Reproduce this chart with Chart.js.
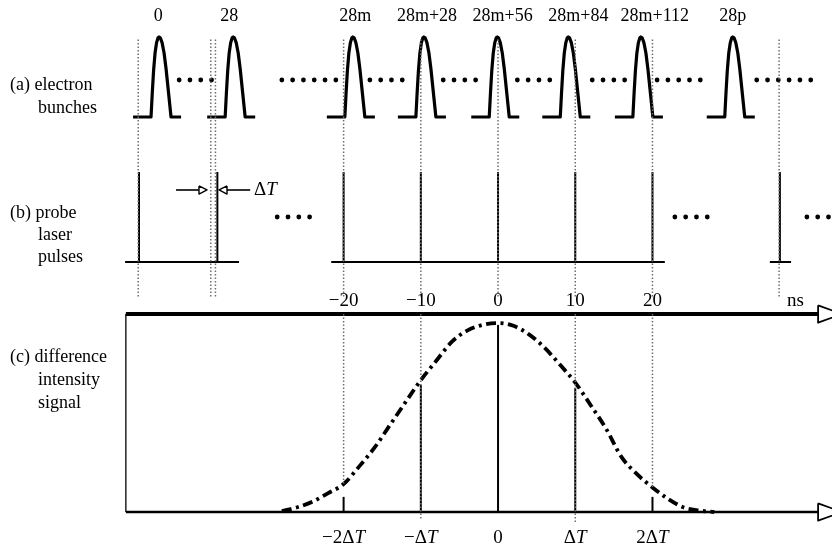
<!DOCTYPE html>
<html>
<head>
<meta charset="utf-8">
<script src="https://cdn.jsdelivr.net/npm/chart.js@4.4.0/dist/chart.umd.min.js"></script>
<style>
  html, body { margin: 0; padding: 0; background: #fff; }
  canvas { display: block; }
</style>
</head>
<body>
<canvas id="chart" width="832" height="548"></canvas>
<script>
// ============================================================
// Timing diagram: electron bunches / probe laser / difference signal
// all times in ns, horizontal axis shared by the three rows
// ============================================================

// ─── DATA ─────────────────────────────────────────────────────
const bunchLabels     = ["0", "28", "28m", "28m+28", "28m+56", "28m+84", "28m+112", "28p"];
const bunchLabelTimes = [-44.0, -34.8, -18.5, -9.2, 0.6, 10.4, 20.3, 30.4];
const bunchPeakTimes  = [-43.9, -34.3, -18.8, -9.6, -0.1, 9.1, 18.5, 30.4];
// one bunch profile: [time offset from peak (ns), relative amplitude]
const bunchShape = [
  [-3.37, 0], [-1.04, 0], [-0.88, 0.3], [-0.71, 0.58], [-0.52, 0.8], [-0.32, 0.93],
  [-0.13, 0.99], [0, 1], [0.16, 0.99], [0.39, 0.93], [0.65, 0.8], [0.91, 0.6],
  [1.23, 0.3], [1.55, 0], [2.85, 0]
];
// "• • • •" runs between bunches: [first dot, last dot] (ns)
const bunchDotRuns = [
  [-41.3, -37.0], [-28.0, -21.0], [-16.6, -12.1], [-7.1, -2.8],
  [2.5, 6.8], [12.2, 16.5], [20.6, 27.5], [33.5, 40.6]
];

const laserTimes     = [-46.5, -36.35, -20, -10, 0, 10, 20, 36.5];
const laserBaselines = [[-48.3, -33.55], [-21.6, 21.6], [35.2, 37.95]];
const laserDotRuns   = [[-28.6, -24.0], [22.9, 27.1], [40.0, 44.4]];

const guideTimes      = [-46.6, -37.2, -36.6, -20, -10, 0, 10, 20, 36.4];
const nsTicks         = [-20, -10, 0, 10, 20];
const nsTickLabels    = ["−20", "−10", "0", "10", "20"];
const dtTickLabels    = [["−2Δ", "T"], ["−Δ", "T"], ["0", ""], ["Δ", "T"], ["2Δ", "T"]];
const guideLowerEnds  = [0.148, -0.042, null, -0.053, 0.132];
const sampleValues    = [0.08, 0.672, 0.99, 0.656, 0.08];

const signalTimes  = [-28, -26, -24, -22, -20, -18, -16, -14, -12, -10, -8, -6, -4, -2, 0,
                      2, 4, 6, 8, 10, 12, 14, 16, 18, 20, 22, 24, 26, 28];
const signalValues = [0.005, 0.025, 0.055, 0.10, 0.148, 0.24, 0.34, 0.46, 0.58, 0.698, 0.80, 0.90, 0.96, 0.99, 1,
                      0.985, 0.94, 0.87, 0.78, 0.685, 0.565, 0.44, 0.29, 0.20, 0.13, 0.07, 0.025, 0.008, 0];

// ─── STYLE / LAYOUT ───────────────────────────────────────────
const serif = "'Liberation Serif', 'Times New Roman', serif";
const AXIS_LEFT = -48.2, AXIS_END = 41.45, ARROW_TIP = 44.55;
const TOP_AXIS = 1.0476;        // signal units
const DT_ROW = 0.8;             // laser units

const pts = (arr) => arr.map(([x, y]) => ({ x, y }));

const seg = (points, axis, opts = {}) => ({
  data: pts(points),
  yAxisID: axis,
  showLine: true,
  pointRadius: 0,
  borderColor: opts.color || "#000",
  borderWidth: opts.width || 2,
  borderDash: opts.dash || [],
  borderCapStyle: opts.cap || "butt",
  borderJoinStyle: "round",
  tension: opts.tension || 0,
  cubicInterpolationMode: opts.mono ? "monotone" : "default",
  fill: false
});

const datasets = [];

// grey dotted guides
const guideStyle = { color: "#6e6e6e", width: 1.5, dash: [1.5, 2] };
guideTimes.forEach(t => datasets.push(seg([[t, 2.5], [t, 1.13]], "yC", guideStyle)));
nsTicks.forEach((t, i) => {
  if (guideLowerEnds[i] !== null) datasets.push(seg([[t, TOP_AXIS], [t, guideLowerEnds[i]]], "yC", guideStyle));
});

// (a) electron bunches
bunchPeakTimes.forEach(p => datasets.push(seg(bunchShape.map(([dt, a]) => [p + dt, a]), "yA", { width: 3.2 })));
bunchDotRuns.forEach(([a, b]) => datasets.push(seg([[a, 0.4625], [b + 0.05, 0.4625]], "yA",
  { width: 4.8, dash: [0, 10.8], cap: "round" })));

// (b) probe laser pulses
laserTimes.forEach(t => datasets.push(seg([[t, 0], [t, 1]], "yB", { width: 2 })));
laserBaselines.forEach(([a, b]) => datasets.push(seg([[a, 0], [b, 0]], "yB", { width: 2 })));
laserDotRuns.forEach(([a, b]) => datasets.push(seg([[a, 0.5], [b + 0.05, 0.5]], "yB",
  { width: 4.8, dash: [0, 10.8], cap: "round" })));

// ΔT arrows
datasets.push(seg([[-41.7, DT_ROW], [-38.73, DT_ROW]], "yB", { width: 1.6 }));
datasets.push(seg([[-38.73, DT_ROW + 0.045], [-37.69, DT_ROW], [-38.73, DT_ROW - 0.045], [-38.73, DT_ROW + 0.045]], "yB", { width: 1.4 }));
datasets.push(seg([[-35.1, DT_ROW], [-32.1, DT_ROW]], "yB", { width: 1.6 }));
datasets.push(seg([[-35.1, DT_ROW + 0.045], [-36.13, DT_ROW], [-35.1, DT_ROW - 0.045], [-35.1, DT_ROW + 0.045]], "yB", { width: 1.4 }));

// (c) axes
datasets.push(seg([[AXIS_LEFT, TOP_AXIS], [AXIS_END, TOP_AXIS]], "yC", { width: 4 }));
datasets.push(seg([[AXIS_LEFT, 0], [AXIS_END, 0]], "yC", { width: 2.6 }));
datasets.push(seg([[AXIS_LEFT, 0], [AXIS_LEFT, TOP_AXIS]], "yC", { width: 1.3 }));
[TOP_AXIS, 0].forEach(y => datasets.push(seg(
  [[AXIS_END, y + 0.046], [ARROW_TIP, y], [AXIS_END, y - 0.046], [AXIS_END, y + 0.046]], "yC", { width: 1.8 })));

// sampled signal at each pulse
nsTicks.forEach((t, i) => datasets.push(seg([[t, 0], [t, sampleValues[i]]], "yC", { width: 2 })));

// difference intensity signal (dash-dot)
datasets.push(seg(signalTimes.map((t, i) => [t, signalValues[i]]), "yC",
  { width: 3.8, dash: [10, 4.5, 3, 4.5], mono: true, tension: 0.4 }));

// ─── TEXT ─────────────────────────────────────────────────────
const richText = (ctx, parts, x, y, align) => {
  const fonts = parts.map((p, i) => (i === 1 ? "italic " : "") + "19px " + serif);
  const widths = parts.map((p, i) => { ctx.font = fonts[i]; return ctx.measureText(p).width; });
  let cx = align === "left" ? x : x - widths.reduce((s, w) => s + w, 0) / 2;
  parts.forEach((p, i) => { ctx.font = fonts[i]; ctx.fillText(p, cx, y); cx += widths[i]; });
};

const textPlugin = {
  id: "texts",
  afterDatasetsDraw(chart) {
    const { ctx, scales: { x, yA, yB, yC } } = chart;
    ctx.save();
    ctx.fillStyle = "#000";
    ctx.textBaseline = "middle";
    ctx.textAlign = "left";

    ctx.font = "18px " + serif;
    bunchLabels.forEach((lab, i) => {
      const w = ctx.measureText(lab).width;
      ctx.fillText(lab, x.getPixelForValue(bunchLabelTimes[i]) - w / 2, yA.getPixelForValue(1.265));
    });

    // row titles
    [["(a) electron", 10, 85], ["bunches", 38, 108],
     ["(b) probe", 10, 213], ["laser", 38, 235], ["pulses", 38, 257],
     ["(c) difference", 10, 357], ["intensity", 38, 380], ["signal", 38, 403]]
      .forEach(([s, px, py]) => ctx.fillText(s, px, py));

    // ns ticks
    nsTickLabels.forEach((lab, i) => richText(ctx, [lab], x.getPixelForValue(nsTicks[i]), yC.getPixelForValue(1.116)));
    richText(ctx, ["ns"], x.getPixelForValue(38.5), yC.getPixelForValue(1.116));

    // ΔT ticks
    dtTickLabels.forEach((parts, i) => richText(ctx, parts, x.getPixelForValue(nsTicks[i]), yC.getPixelForValue(-0.1376)));
    richText(ctx, ["Δ", "T"], x.getPixelForValue(-31.6), yB.getPixelForValue(DT_ROW), "left");
    ctx.restore();
  }
};

// ─── CHART ────────────────────────────────────────────────────
const hidden = (min, max) => ({ type: "linear", min, max, display: false });

new Chart(document.getElementById("chart"), {
  type: "scatter",
  data: { datasets },
  options: {
    responsive: false,
    animation: false,
    events: [],
    layout: { padding: 0 },
    plugins: { legend: { display: false }, tooltip: { enabled: false } },
    scales: {
      x:  hidden(-64.5, 43.25),
      yA: hidden(-5.3875, 1.4625),
      yB: hidden(-3.1778, 2.9111),
      yC: hidden(-0.1905, 2.709)
    }
  },
  plugins: [textPlugin]
});
</script>
</body>
</html>
